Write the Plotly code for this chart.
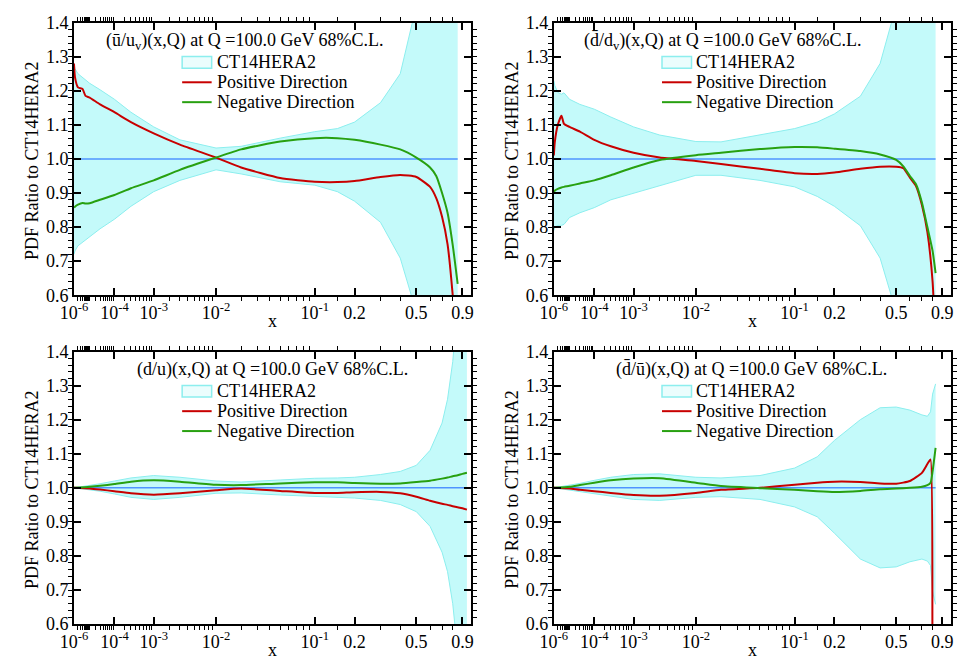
import numpy as np
import plotly.graph_objects as go

# ---------------- data ----------------
X_UBAR_UV = [1e-6, 1.2e-6, 2e-6, 4e-6, 6e-6, 1e-5, 3e-5, 1e-4, 3e-4, 1e-3, 3e-3, 1e-2, 2e-2, 5e-2,
             0.1, 0.15, 0.2, 0.3, 0.4, 0.5, 0.6, 0.65, 0.7, 0.75, 0.8, 0.85]
UBAR_UV_UP = [1.28, 1.265, 1.25, 1.24, 1.232, 1.222, 1.203, 1.175, 1.137, 1.094, 1.056, 1.032, 1.037, 1.061,
              1.08, 1.089, 1.108, 1.165, 1.25, 1.45, 1.75, 1.95, 2.2, 2.5, 3.0, 3.5]
UBAR_UV_LO = [0.72, 0.73, 0.745, 0.755, 0.762, 0.771, 0.795, 0.823, 0.861, 0.904, 0.937, 0.968, 0.956, 0.933,
              0.923, 0.904, 0.876, 0.814, 0.709, 0.55, 0.3, 0.15, 0.0, -0.2, -0.5, -0.8]
UBAR_UV_POS = [1.28, 1.24, 1.21, 1.205, 1.185, 1.18, 1.16, 1.137, 1.108, 1.075, 1.042, 1.004, 0.975, 0.944,
               0.933, 0.932, 0.935, 0.947, 0.953, 0.947, 0.918, 0.885, 0.83, 0.75, 0.6, 0.4]
UBAR_UV_NEG = [0.857, 0.86, 0.866, 0.871, 0.869, 0.87, 0.88, 0.894, 0.914, 0.937, 0.968, 1.004, 1.028, 1.051,
               1.061, 1.061, 1.056, 1.042, 1.028, 1.004, 0.975, 0.95, 0.9, 0.842, 0.747, 0.633]

X_DBAR_DV = [1e-6, 1.2e-6, 2e-6, 3.5e-6, 5e-6, 1e-5, 3e-5, 1e-4, 3e-4, 1e-3, 3e-3, 1e-2, 2e-2, 5e-2,
             0.1, 0.15, 0.2, 0.3, 0.4, 0.5, 0.55, 0.6, 0.65, 0.7, 0.75, 0.8, 0.83]
DBAR_DV_UP = [1.23, 1.215, 1.195, 1.19, 1.194, 1.175, 1.16, 1.146, 1.123, 1.094, 1.07, 1.051, 1.05, 1.07,
              1.089, 1.108, 1.132, 1.184, 1.28, 1.45, 1.6, 1.75, 1.95, 2.2, 2.5, 3.0, 3.3]
DBAR_DV_LO = [0.79, 0.8, 0.805, 0.805, 0.808, 0.828, 0.842, 0.857, 0.88, 0.899, 0.923, 0.952, 0.952, 0.937,
              0.918, 0.89, 0.861, 0.804, 0.709, 0.55, 0.42, 0.3, 0.15, 0.0, -0.2, -0.5, -0.7]
DBAR_DV_POS = [1.01, 1.05, 1.1, 1.127, 1.103, 1.094, 1.08, 1.056, 1.037, 1.018, 1.004, 0.994, 0.985, 0.971,
               0.958, 0.956, 0.96, 0.971, 0.977, 0.977, 0.973, 0.945, 0.92, 0.865, 0.785, 0.64, 0.45]
DBAR_DV_NEG = [0.904, 0.907, 0.912, 0.916, 0.918, 0.921, 0.928, 0.937, 0.952, 0.975, 0.997, 1.011, 1.018, 1.029,
               1.035, 1.034, 1.03, 1.023, 1.013, 0.997, 0.978, 0.95, 0.925, 0.872, 0.8, 0.73, 0.665]

X_D_U = [1e-6, 1e-5, 3e-5, 1e-4, 3e-4, 1e-3, 3e-3, 1e-2, 2e-2, 5e-2, 0.1, 0.15, 0.2, 0.3, 0.4, 0.5,
         0.6, 0.7, 0.75, 0.8, 0.85, 0.9, 0.95]
D_U_UP = [1.0, 1.006, 1.012, 1.02, 1.029, 1.036, 1.031, 1.02, 1.017, 1.023, 1.028, 1.029, 1.031, 1.039, 1.048, 1.066,
          1.11, 1.19, 1.26, 1.37, 1.5, 1.7, 1.95]
D_U_LO = [1.0, 0.994, 0.99, 0.982, 0.972, 0.966, 0.972, 0.984, 0.985, 0.979, 0.974, 0.972, 0.97, 0.963, 0.951, 0.93,
          0.887, 0.811, 0.754, 0.66, 0.54, 0.38, 0.2]
D_U_POS = [1.0, 0.998, 0.995, 0.99, 0.984, 0.98, 0.984, 0.993, 0.998, 0.991, 0.985, 0.985, 0.987, 0.988, 0.984, 0.974,
           0.962, 0.953, 0.95, 0.946, 0.943, 0.94, 0.936]
D_U_NEG = [1.0, 1.003, 1.006, 1.011, 1.018, 1.022, 1.018, 1.009, 1.008, 1.013, 1.016, 1.016, 1.014, 1.012, 1.013, 1.017,
           1.021, 1.027, 1.03, 1.034, 1.037, 1.041, 1.044]

X_DBAR_UBAR = [1e-6, 1e-5, 3e-5, 1e-4, 3e-4, 1e-3, 3e-3, 1e-2, 2e-2, 5e-2, 0.1, 0.15, 0.2, 0.3, 0.4, 0.5,
               0.6, 0.7, 0.75, 0.78, 0.8, 0.83]
DBAR_UBAR_UP = [1.0, 1.007, 1.013, 1.022, 1.031, 1.039, 1.041, 1.031, 1.029, 1.036, 1.058, 1.091, 1.139, 1.2, 1.235,
                1.237, 1.228, 1.214, 1.21, 1.223, 1.275, 1.305]
DBAR_UBAR_LO = [1.0, 0.993, 0.988, 0.982, 0.974, 0.966, 0.963, 0.972, 0.974, 0.966, 0.944, 0.915, 0.867, 0.791, 0.765,
                0.768, 0.783, 0.791, 0.785, 0.772, 0.696, 0.658]
DBAR_UBAR_POS = [1.0, 0.998, 0.994, 0.99, 0.985, 0.979, 0.977, 0.985, 0.994, 1.0, 1.009, 1.015, 1.018, 1.017, 1.013,
                 1.012, 1.02, 1.044, 1.07, 1.083, 0.5, 0.3]
DBAR_UBAR_NEG = [1.0, 1.003, 1.008, 1.015, 1.022, 1.027, 1.028, 1.015, 1.005, 0.999, 0.994, 0.99, 0.988, 0.991, 0.996,
                 0.998, 1.0, 1.003, 1.008, 1.015, 1.048, 1.117]

TITLES = ["(ū/u<sub>v</sub>)(x,Q) at Q =100.0 GeV 68%C.L.",
          "(d\u0304/d<sub>v</sub>)(x,Q) at Q =100.0 GeV 68%C.L.",
          "(d/u)(x,Q) at Q =100.0 GeV 68%C.L.",
          "(d\u0304/ū)(x,Q) at Q =100.0 GeV 68%C.L."]
LEGEND_NAMES = ["CT14HERA2", "Positive Direction", "Negative Direction"]

XMAJOR = [1e-6, 1e-4, 1e-3, 1e-2, 0.1, 0.2, 0.5, 0.9]
XMAJOR_TEXT = ["10<sup>-6</sup>", "10<sup>-4</sup>", "10<sup>-3</sup>", "10<sup>-2</sup>",
               "10<sup>-1</sup>", "0.2", "0.5", "0.9"]
XMINOR = [k * 10.0 ** e for e in range(-6, -1) for k in range(1, 10)
          if not (k == 1 and e in (-6, -4, -3, -2))] + [0.15, 0.3, 0.4, 0.6, 0.7, 0.8]

# ---------------- styling ----------------
XPOW = 0.2          # horizontal axis is linear in x^0.2
FONT = "'Liberation Serif', 'Times New Roman', Times, 'DejaVu Serif', serif"
W, H = 959, 671
RED = "#c80000"
GREEN = "#28a010"
BLUE = "#4f94ff"
BAND_FILL = "rgb(196,250,250)"
BAND_LINE = "rgb(140,238,238)"


def U(x):
    return np.power(np.asarray(x, dtype=float), XPOW)


panels = [
    (X_UBAR_UV, UBAR_UV_UP, UBAR_UV_LO, UBAR_UV_POS, UBAR_UV_NEG),
    (X_DBAR_DV, DBAR_DV_UP, DBAR_DV_LO, DBAR_DV_POS, DBAR_DV_NEG),
    (X_D_U, D_U_UP, D_U_LO, D_U_POS, D_U_NEG),
    (X_DBAR_UBAR, DBAR_UBAR_UP, DBAR_UBAR_LO, DBAR_UBAR_POS, DBAR_UBAR_NEG),
]

# panel pixel boxes: (left, top, right, bottom)
BOX = [(61, 13, 465, 294), (549, 13, 953, 294), (61, 352, 465, 633), (549, 352, 953, 633)]
TITLE_DX = [174, 172, 202, 201]

fig = go.Figure()
for i, (xs, up, lo, pos, neg) in enumerate(panels):
    n = "" if i == 0 else str(i + 1)
    xa, ya = "x" + n, "y" + n
    u = U(xs)
    fig.add_trace(go.Scatter(x=u, y=lo, mode="lines", line=dict(color=BAND_LINE, width=1),
                             xaxis=xa, yaxis=ya, showlegend=False, hoverinfo="skip"))
    fig.add_trace(go.Scatter(x=u, y=up, mode="lines", line=dict(color=BAND_LINE, width=1),
                             fill="tonexty", fillcolor=BAND_FILL,
                             xaxis=xa, yaxis=ya, showlegend=False, hoverinfo="skip"))
    fig.add_trace(go.Scatter(x=u, y=np.ones(len(xs)), mode="lines", line=dict(color=BLUE, width=1.5),
                             xaxis=xa, yaxis=ya, showlegend=False))
    fig.add_trace(go.Scatter(x=u, y=pos, mode="lines", line=dict(color=RED, width=2, shape="spline", smoothing=0.5),
                             xaxis=xa, yaxis=ya, showlegend=False))
    fig.add_trace(go.Scatter(x=u, y=neg, mode="lines", line=dict(color=GREEN, width=2, shape="spline", smoothing=0.5),
                             xaxis=xa, yaxis=ya, showlegend=False))

annotations = []
shapes = []


def px(xp):
    return xp / W


def py(yp):
    return 1 - yp / H


for i, (l, t, r, b) in enumerate(BOX):
    n = "" if i == 0 else str(i + 1)
    common = dict(showline=True, linewidth=2, linecolor="black", mirror="ticks", ticks="inside",
                  tickcolor="black", tickwidth=1.5, showgrid=False, zeroline=False,
                  tickfont=dict(family=FONT, size=18, color="black"))
    fig.layout["xaxis" + n] = dict(
        domain=[l / W, r / W], anchor="y" + n, range=[float(U(1e-6)), 1.0],
        tickmode="array", tickvals=U(XMAJOR).tolist(), ticktext=XMAJOR_TEXT, ticklen=7,
        minor=dict(tickmode="array", tickvals=U(XMINOR).tolist(), ticklen=4, tickwidth=1, tickcolor="black"),
        **common)
    fig.layout["yaxis" + n] = dict(
        domain=[1 - b / H, 1 - t / H], anchor="x" + n, range=[0.6, 1.4],
        tickmode="linear", tick0=0.6, dtick=0.1, tickformat=".1f", ticklen=7,
        minor=dict(dtick=0.02, ticklen=4, tickwidth=1, tickcolor="black"),
        **common)

    # panel title
    annotations.append(dict(text=TITLES[i], x=px(l + TITLE_DX[i]), y=py(t + 19), xref="paper", yref="paper",
                            xanchor="center", yanchor="middle", showarrow=False,
                            font=dict(family=FONT, size=18, color="black")))
    # legend block
    rows = [t + 41, t + 61.5, t + 82]
    for j, name in enumerate(LEGEND_NAMES):
        annotations.append(dict(text=name, x=px(l + 143), y=py(rows[j]), xref="paper", yref="paper",
                                xanchor="left", yanchor="middle", showarrow=False,
                                font=dict(family=FONT, size=18, color="black")))
    shapes.append(dict(type="rect", xref="paper", yref="paper",
                       x0=px(l + 110), x1=px(l + 140), y0=py(rows[0] - 6), y1=py(rows[0] + 6),
                       line=dict(color=BAND_LINE, width=1.5), fillcolor="rgb(235,253,253)"))
    shapes.append(dict(type="line", xref="paper", yref="paper",
                       x0=px(l + 110), x1=px(l + 140), y0=py(rows[1]), y1=py(rows[1]),
                       line=dict(color=RED, width=2)))
    shapes.append(dict(type="line", xref="paper", yref="paper",
                       x0=px(l + 110), x1=px(l + 140), y0=py(rows[2]), y1=py(rows[2]),
                       line=dict(color=GREEN, width=2)))
    # axis titles
    annotations.append(dict(text="PDF Ratio to CT14HERA2", x=px(l - 42), y=py(t + 142), xref="paper",
                            yref="paper", xanchor="center", yanchor="middle", textangle=-90,
                            showarrow=False, font=dict(family=FONT, size=18, color="black")))
    annotations.append(dict(text="x", x=px((l + r) / 2), y=py(t + 308), xref="paper", yref="paper",
                            xanchor="center", yanchor="middle", showarrow=False,
                            font=dict(family=FONT, size=18, color="black")))

fig.update_layout(width=W, height=H, margin=dict(l=0, r=0, t=0, b=0), paper_bgcolor="white",
                  plot_bgcolor="white", showlegend=False, annotations=annotations, shapes=shapes,
                  font=dict(family=FONT, size=18, color="black"))
fig.write_html("out.html")
